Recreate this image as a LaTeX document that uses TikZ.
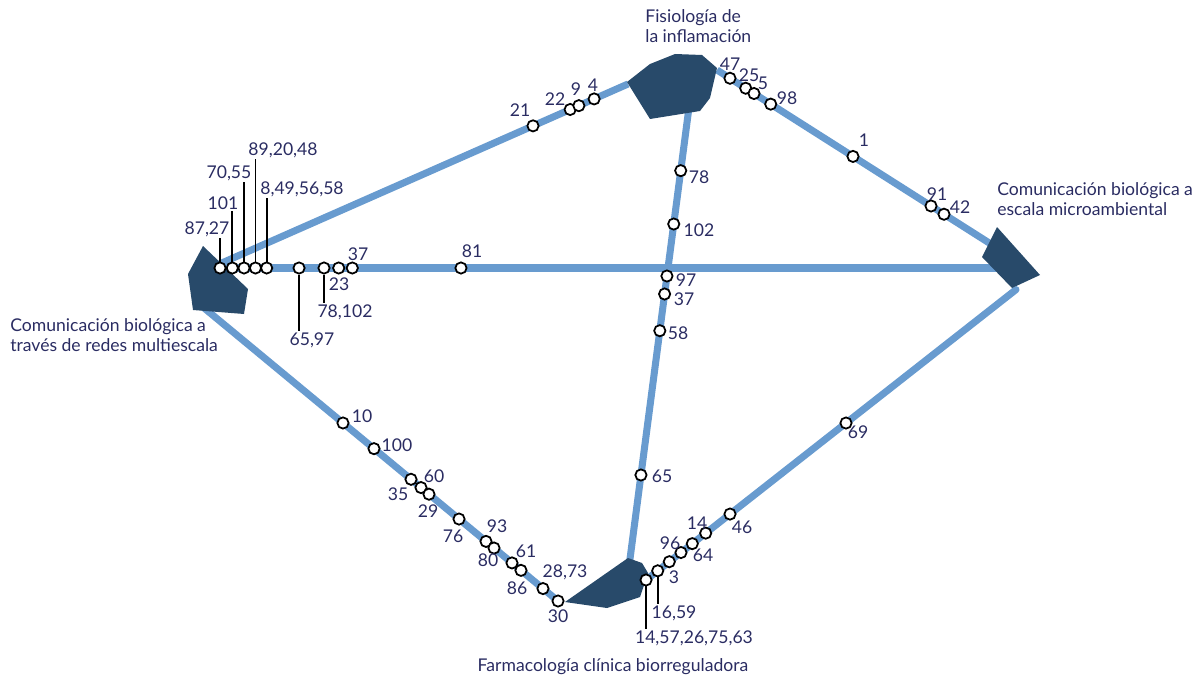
\documentclass[tikz,border=0pt]{standalone}
\usepackage{fontspec}
\setmainfont{Lato}
\usepackage{tikz}
\usetikzlibrary{calc}

\definecolor{routeblue}{RGB}{104,155,207}
\definecolor{hubblue}{RGB}{40,74,106}
\definecolor{ink}{RGB}{42,44,98}

\begin{document}
\begin{tikzpicture}[x=0.02cm,y=-0.02cm,
	route/.style={routeblue,line width=4pt},
	hub/.style={fill=hubblue},
	dot/.style={circle,draw=black,fill=white,line width=1pt,inner sep=0pt,minimum size=6.4pt},
	num/.style={text=ink,font=\fontsize{10}{12}\selectfont,inner sep=0.5pt},
	area/.style={text=ink,font=\fontsize{10}{11.4}\selectfont,align=left,inner sep=0pt},
	stick/.style={black,line width=1pt}]
	\useasboundingbox (0,0) rectangle (1200,686);
	\coordinate (ltA) at (215,266); \coordinate (ltB) at (628,84);
	\coordinate (lrA) at (215,268); \coordinate (lrB) at (1010,268);
	\coordinate (trA) at (717,70); \coordinate (trB) at (1005,253);
	\coordinate (tbA) at (690.6,95); \coordinate (tbB) at (629.2,565);
	\coordinate (lbA) at (200,304.6); \coordinate (lbB) at (562,604.3);
	\coordinate (rbA) at (1016,289.6); \coordinate (rbB) at (640,584.7);
	\draw[route] (ltA) -- (ltB);
	\draw[route] (lrA) -- (lrB);
	\draw[route] (trA) -- (trB);
	\draw[route] (tbA) -- (tbB);
	\draw[route] (lbA) -- (lbB);
	\draw[route,line cap=round] (rbA) -- (rbB);
	\fill[hub] (203,246) -- (188,274) -- (193,310) -- (244,314) -- (248,289) -- cycle;
	\fill[hub] (627,82) -- (650,64) -- (675,54) -- (702,55) -- (717,68) -- (710,98) -- (700,111) -- (650,119) -- cycle;
	\fill[hub] (997,227) -- (982,257) -- (1012,288) -- (1040,275) -- cycle;
	\fill[hub] (565,602) -- (628,558) -- (642,563) -- (648,573) -- (640,597) -- (607,608) -- cycle;
	\path (ltA) -- (ltB) node[dot,pos=0.770] (a1) {} node[dot,pos=0.860] (a2) {}
		node[dot,pos=0.881] (a3) {} node[dot,pos=0.918] (a4) {};
	\path (lrA) -- (lrB) node[dot,pos=0.0063] (h1) {} node[dot,pos=0.0218] (h2) {}
		node[dot,pos=0.0365] (h3) {} node[dot,pos=0.0509] (h4) {}
		node[dot,pos=0.065] (h5) {} node[dot,pos=0.1057] (h6) {}
		node[dot,pos=0.1371] (h7) {} node[dot,pos=0.1556] (h8) {}
		node[dot,pos=0.1727] (h9) {} node[dot,pos=0.3094] (h10) {};
	\path (trA) -- (trB) node[dot,pos=0.0451] (m1) {} node[dot,pos=0.0997] (m2) {}
		node[dot,pos=0.1285] (m3) {} node[dot,pos=0.1865] (m4) {}
		node[dot,pos=0.4722] (m5) {} node[dot,pos=0.7431] (m6) {}
		node[dot,pos=0.7882] (m7) {};
	\path (tbA) -- (tbB) node[dot,pos=0.161] (v1) {} node[dot,pos=0.2745] (v2) {}
		node[dot,pos=0.3851] (v3) {} node[dot,pos=0.4234] (v4) {}
		node[dot,pos=0.5015] (v5) {} node[dot,pos=0.8085] (v6) {};
	\path (lbA) -- (lbB) node[dot,pos=0.395] (d1) {} node[dot,pos=0.4807] (d2) {}
		node[dot,pos=0.5829] (d3) {} node[dot,pos=0.6105] (d4) {}
		node[dot,pos=0.6326] (d5) {} node[dot,pos=0.7155] (d6) {}
		node[dot,pos=0.7901] (d7) {} node[dot,pos=0.8122] (d8) {}
		node[dot,pos=0.8619] (d9) {} node[dot,pos=0.8867] (d10) {}
		node[dot,pos=0.9475] (d11) {} node[dot,pos=0.989] (d12) {};
	\path (rbA) -- (rbB) node[dot,pos=0.4521] (e1) {} node[dot,pos=0.7606] (e2) {}
		node[dot,pos=0.8253] (e3) {} node[dot,pos=0.8609] (e4) {}
		node[dot,pos=0.891] (e5) {} node[dot,pos=0.9221] (e6) {}
		node[dot,pos=0.9529] (e7) {} node[dot,pos=0.984] (e8) {};
	\node[area,anchor=west] (fisio) at (645,26) {Fisiología de\\la inflamación};
	\node[area,anchor=west] (micro) at (997,199) {Comunicación biológica a\\escala microambiental};
	\node[area,anchor=west] (redes) at (10,335) {Comunicación biológica a\\través de redes multiescala};
	\node[area] (farma) at (613,667) {Farmacología clínica biorreguladora};
	\node[num] (s8727) at (207,229) {87,27};
	\node[num] (s101) at (223,203) {101};
	\node[num] (s7055) at (229,173) {70,55};
	\node[num] (s892048) at (283,150) {89,20,48};
	\node[num] (s8495658) at (302,189) {8,49,56,58};
	\node[num] (s6597) at (312,340) {65,97};
	\node[num] (s78102) at (345,312) {78,102};
	\node[num] (s1659) at (674,613) {16,59};
	\node[num] (s1457) at (694,638) {14,57,26,75,63};
	\draw[stick] (h1.north) -- (h1.north |- s8727.south);
	\draw[stick] (h2.north) -- (h2.north |- s101.south);
	\draw[stick] (h3.north) -- (h3.north |- s7055.south);
	\draw[stick] (h4.north) -- (h4.north |- s892048.south);
	\draw[stick] (h5.north) -- (h5.north |- s8495658.south);
	\draw[stick] (h6.south) -- (h6.south |- s6597.north);
	\draw[stick] (h7.south) -- (h7.south |- s78102.north);
	\draw[stick] (e7.south) -- (e7.south |- s1659.north);
	\draw[stick] (e8.south) -- (e8.south |- s1457.north);
	\foreach \x/\y/\t in {520/110/21, 555/99/22, 576/89/9, 593/85/4,
		730/64/47, 749/75/25, 763/83/5, 787/98/98, 864/140/1, 937/194/91, 960/207/42,
		699/177/78, 699/230/102, 686/280/97, 684/299/37, 678/333/58, 662/476/65,
		358/254/37, 339/284/23, 472/251/81,
		362/416/10, 397/445/100, 434/476/60, 398/494/35, 428/511/29, 453/536/76,
		497/526/93, 488/560/80, 526/551/61, 517/588/86, 565/572/{28,73}, 558/616/30,
		858/432/69, 742/527/46, 697/523/14, 670/543/96, 703/555/64, 674/577/3}
		\node[num] (n\x-\y) at (\x,\y) {\t};
\end{tikzpicture}
\end{document}
